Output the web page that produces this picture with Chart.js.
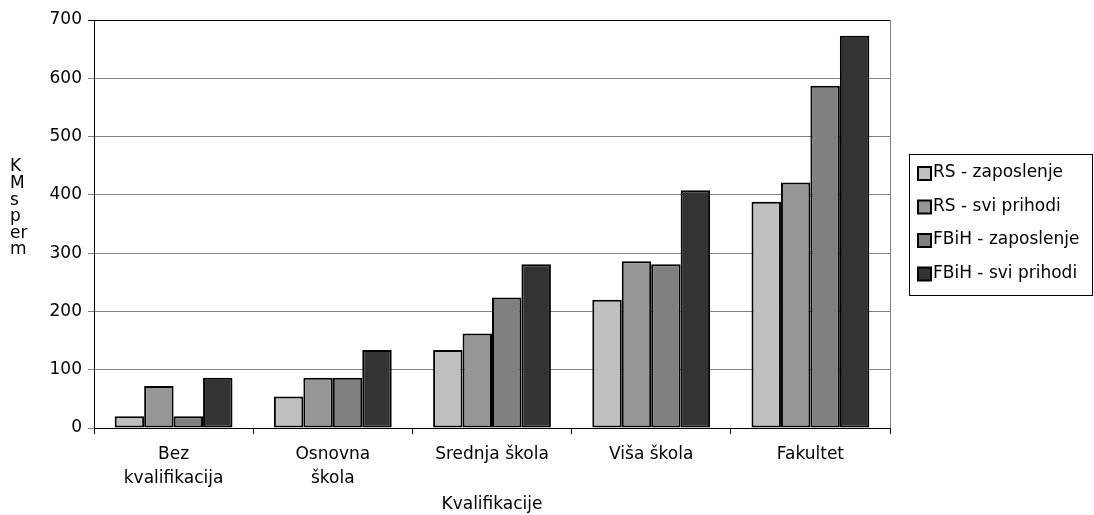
<!DOCTYPE html>
<html>
<head>
<meta charset="utf-8">
<script src="https://cdn.jsdelivr.net/npm/chart.js@4"></script>
<style>
  body { margin: 0; background: #fff; }
  #wrap { width: 1094px; height: 515px; position: relative; }
</style>
</head>
<body>
<div id="wrap"><canvas id="mycanvas" width="1094" height="515"></canvas></div>
<script>
var categories = [["Bez", "kvalifikacija"], ["Osnovna", "škola"], "Srednja škola", "Viša škola", "Fakultet"];
var seriesNames = ["RS - zaposlenje", "RS - svi prihodi", "FBiH - zaposlenje", "FBiH - svi prihodi"];
var rsZaposlenje = [20, 54, 134, 220, 388];
var rsSviPrihodi = [72, 86, 162, 286, 421];
var fbihZaposlenje = [20, 86, 224, 281, 587];
var fbihSviPrihodi = [86, 134, 281, 408, 673];
var yTitleLines = ["K", "M", "s", "p", "er", "m"];
var xTitle = "Kvalifikacije";

var colors = ["#c0c0c0", "#969696", "#808080", "#333333"];
var font = "'DejaVu Sans', sans-serif";
var fsize = 17;

var series = [rsZaposlenje, rsSviPrihodi, fbihZaposlenje, fbihSviPrihodi];
var datasets = [];
for (var i = 0; i < series.length; i++) {
	datasets.push({
		label: seriesNames[i],
		data: series[i],
		backgroundColor: colors[i],
		borderColor: "#000",
		borderWidth: 2,
		borderSkipped: false,
		categoryPercentage: 0.74,
		barPercentage: 1.0
	});
}

var extras = {
	id: "extras",
	afterDraw: function(chart) {
		var ctx = chart.ctx;
		var a = chart.chartArea;
		ctx.save();
		// plot border top + right
		ctx.strokeStyle = "#000";
		ctx.lineWidth = 1;
		ctx.beginPath();
		ctx.moveTo(a.left - 6, a.top + 0.5);
		ctx.lineTo(a.right, a.top + 0.5);
		ctx.stroke();
		ctx.strokeStyle = "#808080";
		ctx.beginPath();
		ctx.moveTo(a.right + 0.5, a.top);
		ctx.lineTo(a.right + 0.5, a.bottom);
		ctx.stroke();

		// y title, one line per piece
		ctx.fillStyle = "#000";
		ctx.font = fsize + "px " + font;
		ctx.textAlign = "left";
		ctx.textBaseline = "middle";
		for (var k = 0; k < yTitleLines.length; k++) {
			ctx.fillText(yTitleLines[k], 10, 167 + k * 16.6);
		}

		// legend
		ctx.strokeStyle = "#000";
		ctx.lineWidth = 1;
		ctx.strokeRect(909.5, 154.5, 183, 141);
		for (var j = 0; j < chart.data.datasets.length; j++) {
			var ds = chart.data.datasets[j];
			var cy = 173 + j * 33.5;
			ctx.fillStyle = ds.backgroundColor;
			ctx.fillRect(918, cy - 6, 13, 13);
			ctx.strokeStyle = "#000";
			ctx.lineWidth = 2;
			ctx.strokeRect(918, cy - 6, 13, 13);
			ctx.fillStyle = "#000";
			ctx.fillText(ds.label, 933, cy);
		}
		ctx.restore();
	}
};

var ctx = document.getElementById("mycanvas");
var barGraph = new Chart(ctx, {
	type: "bar",
	data: { labels: categories, datasets: datasets },
	plugins: [extras],
	options: {
		responsive: false,
		animation: false,
		layout: { padding: { top: 20, right: 204, left: 0, bottom: 0 } },
		plugins: {
			legend: { display: false },
			tooltip: { enabled: false }
		},
		scales: {
			x: {
				afterFit: function(s) { s.height = 87; },
				grid: { offset: true, drawOnChartArea: false, color: "#000", tickLength: 6 },
				border: { color: "#000", width: 1 },
				ticks: { color: "#000", font: { family: font, size: fsize, lineHeight: 1.38 }, padding: 9, maxRotation: 0 },
				title: { display: true, text: xTitle, color: "#000", font: { family: font, size: fsize }, padding: { top: 0, bottom: 0 } }
			},
			y: {
				min: 0,
				max: 700,
				afterFit: function(s) { s.width = 94; },
				grid: { color: "#808080", tickLength: 6 },
				border: { color: "#000", width: 1 },
				ticks: { stepSize: 100, color: "#000", font: { family: font, size: fsize }, padding: 6 }
			}
		}
	}
});
</script>
</body>
</html>
